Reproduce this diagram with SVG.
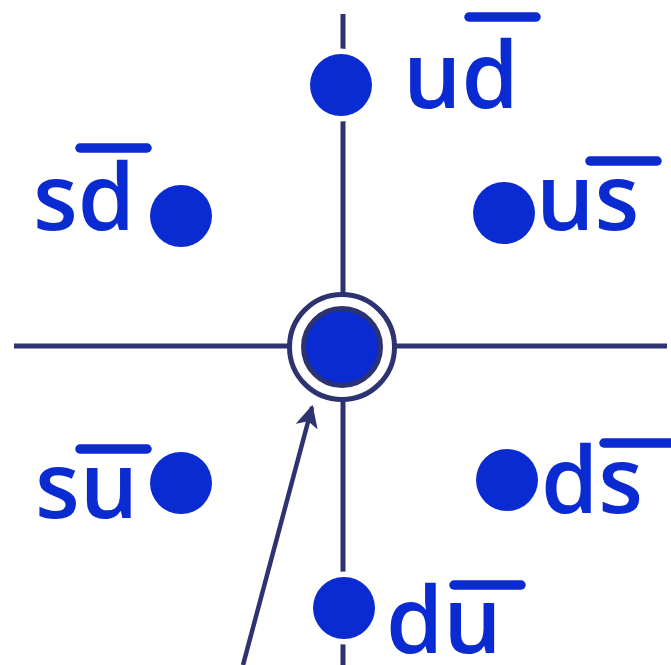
<svg xmlns="http://www.w3.org/2000/svg" width="671" height="665" viewBox="0 0 671 665">
<style>
.ax{stroke:#2d3271;stroke-width:5;fill:none}
.dot{fill:#0a2ad2;stroke:#fff;stroke-width:11;paint-order:stroke}
.lbl{font-family:"Open Sans","DejaVu Sans",sans-serif;font-weight:600;font-size:92px;fill:#0a2ad2}
.bar{stroke:#0a2ad2;stroke-width:9.5;stroke-linecap:round}
</style>
<defs>
<marker id="ah" viewBox="0 0 10 10" refX="9" refY="5" markerWidth="5" markerHeight="5" markerUnits="strokeWidth" orient="auto">
<path d="M0,0 L10,5 L0,10 L2.5,5 Z" fill="#2d3271"/>
</marker>
</defs>
<rect width="671" height="665" fill="#fff"/>
<g id="axes">
<line class="ax" x1="343" y1="14" x2="343" y2="665"/>
<line class="ax" x1="14" y1="346" x2="667" y2="346"/>
</g>
<g id="connectors">
<line x1="243" y1="665" x2="312" y2="407" stroke="#2d3271" stroke-width="4.5" marker-end="url(#ah)"/>
</g>
<g id="center">
<circle cx="342" cy="347" r="52.5" fill="#fff" stroke="#2d3271" stroke-width="5"/>
<circle cx="342" cy="347" r="38.5" fill="#0a2ad2" stroke="#2d3271" stroke-width="5"/>
</g>
<g id="ud">
<circle class="dot" cx="341" cy="85" r="31"/>
<text class="lbl" x="403" y="108">ud</text>
<line class="bar" x1="469" y1="17" x2="536" y2="17"/>
</g>
<g id="sd">
<circle class="dot" cx="181" cy="216" r="31"/>
<text class="lbl" x="33" y="230">sd</text>
<line class="bar" x1="80" y1="148" x2="147" y2="148"/>
</g>
<g id="us">
<circle class="dot" cx="504" cy="213" r="31"/>
<text class="lbl" x="536" y="230">us</text>
<line class="bar" x1="590" y1="161" x2="657" y2="161"/>
</g>
<g id="su">
<circle class="dot" cx="181" cy="483" r="31"/>
<text class="lbl" x="35" y="518">su</text>
<line class="bar" x1="80" y1="449" x2="147" y2="449"/>
</g>
<g id="ds">
<circle class="dot" cx="507" cy="480" r="31"/>
<text class="lbl" x="541" y="513">ds</text>
<line class="bar" x1="604" y1="443" x2="675" y2="443"/>
</g>
<g id="du">
<circle class="dot" cx="344" cy="608" r="31"/>
<text class="lbl" x="386" y="653">du</text>
<line class="bar" x1="454" y1="585" x2="521" y2="585"/>
</g>
</svg>
